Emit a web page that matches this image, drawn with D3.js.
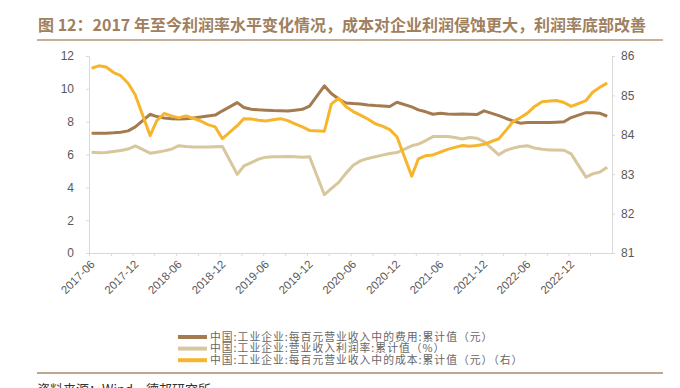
<!DOCTYPE html>
<html>
<head>
<meta charset="utf-8">
<script src="https://cdn.jsdelivr.net/npm/d3@7"></script>
<style>
  body { margin: 0; background: #fff; }
  svg { display: block; }
</style>
</head>
<body>
<svg id="chart" width="680" height="388"></svg>
<script>
// monthly cumulative data, January not published
const months = [
  "2017-06","2017-07","2017-08","2017-09","2017-10","2017-11","2017-12",
  "2018-02","2018-03","2018-04","2018-05","2018-06","2018-07","2018-08","2018-09","2018-10","2018-11","2018-12",
  "2019-02","2019-03","2019-04","2019-05","2019-06","2019-07","2019-08","2019-09","2019-10","2019-11","2019-12",
  "2020-02","2020-03","2020-04","2020-05","2020-06","2020-07","2020-08","2020-09","2020-10","2020-11","2020-12",
  "2021-02","2021-03","2021-04","2021-05","2021-06","2021-07","2021-08","2021-09","2021-10","2021-11","2021-12",
  "2022-02","2022-03","2022-04","2022-05","2022-06","2022-07","2022-08","2022-09","2022-10","2022-11","2022-12",
  "2023-02","2023-03","2023-04","2023-05"
];

// 每百元营业收入中的费用 (元), left axis
const fees = [
  7.30, 7.30, 7.30, 7.32, 7.36, 7.44, 7.68,
  8.45, 8.31, 8.22, 8.18, 8.17, 8.18, 8.22, 8.28, 8.34, 8.40, 8.66,
  9.16, 8.86, 8.76, 8.72, 8.70, 8.68, 8.67, 8.65, 8.70, 8.75, 8.95,
  10.18, 9.72, 9.38, 9.14, 9.10, 9.08, 9.02, 8.98, 8.96, 8.92, 9.18,
  8.90, 8.72, 8.60, 8.45, 8.51, 8.47, 8.45, 8.47, 8.45, 8.43, 8.66,
  8.37, 8.21, 8.05, 7.91, 7.95, 7.95, 7.95, 7.95, 7.97, 7.99, 8.25,
  8.55, 8.55, 8.51, 8.33
];

// 营业收入利润率 (%), left axis
const profitMargin = [
  6.14, 6.10, 6.12, 6.18, 6.24, 6.33, 6.52,
  6.08, 6.14, 6.22, 6.32, 6.54, 6.49, 6.46, 6.45, 6.45, 6.47, 6.49,
  4.79, 5.30, 5.50, 5.72, 5.84, 5.86, 5.86, 5.88, 5.86, 5.84, 5.86,
  3.55, 3.92, 4.30, 4.85, 5.35, 5.61, 5.76, 5.86, 5.96, 6.06, 6.12,
  6.53, 6.63, 6.85, 7.09, 7.09, 7.09, 7.03, 6.95, 7.03, 6.99, 6.79,
  5.98, 6.24, 6.39, 6.49, 6.53, 6.39, 6.32, 6.28, 6.28, 6.26, 6.04,
  4.62, 4.82, 4.93, 5.23
];

// 每百元营业收入中的成本 (元), right axis
const cost = [
  85.69, 85.75, 85.72, 85.58, 85.50, 85.31, 85.01,
  83.98, 84.36, 84.54, 84.48, 84.43, 84.48, 84.42, 84.35, 84.26, 84.20, 83.90,
  84.23, 84.41, 84.40, 84.37, 84.35, 84.38, 84.41, 84.36, 84.28, 84.20, 84.11,
  84.09, 84.78, 84.93, 84.72, 84.59, 84.50, 84.40, 84.28, 84.22, 84.13, 83.95,
  82.95, 83.39, 83.47, 83.49, 83.56, 83.63, 83.68, 83.73, 83.71, 83.73, 83.76,
  83.90, 84.10, 84.33, 84.43, 84.55, 84.72, 84.84, 84.86, 84.87, 84.82, 84.72,
  84.87, 85.08, 85.21, 85.31
];

const leftTicks = [0, 2, 4, 6, 8, 10, 12];
const rightTicks = [81, 82, 83, 84, 85, 86];
const xStart = "2017-06";
const xEnd = "2023-06";
const xLabelEnd = "2022-12";

const seriesNames = [
  "中国:工业企业:每百元营业收入中的费用:累计值（元）",
  "中国:工业企业:营业收入利润率:累计值（%）",
  "中国:工业企业:每百元营业收入中的成本:累计值（元）（右）"
];
const titleText = "图 12：2017 年至今利润率水平变化情况，成本对企业利润侵蚀更大，利润率底部改善";
const sourceText = "资料来源：Wind，德邦研究所";

const colors = ["#a47b50", "#d8c69c", "#f6b52c"];
const cjk = "'Noto Sans CJK SC', sans-serif";
const latin = "'Liberation Sans', Arial, sans-serif";

const svg = d3.select("#chart");
const margin = { top: 56, right: 68, bottom: 135, left: 89 };
const width = 680, height = 388;

const parseMonth = d3.timeParse("%Y-%m");
const fmtMonth = d3.timeFormat("%Y-%m");
const x = d3.scaleTime()
  .domain([parseMonth(xStart), parseMonth(xEnd)])
  .range([margin.left, width - margin.right]);
// points sit a little into their month
const xPoint = m => x(d3.timeDay.offset(parseMonth(m), 11));

const yLeft = d3.scaleLinear().domain([0, 12]).range([height - margin.bottom, margin.top]);
const yRight = d3.scaleLinear().domain([81, 86]).range([height - margin.bottom, margin.top]);

// title
svg.append("text")
  .attr("x", 38)
  .attr("y", 31)
  .attr("font-family", cjk)
  .attr("font-weight", "bold")
  .attr("font-size", 16)
  .attr("fill", "#a0805e")
  .text(titleText);

svg.append("line")
  .attr("x1", 37).attr("x2", 663)
  .attr("y1", 40).attr("y2", 40)
  .attr("stroke", "#b09474")
  .attr("stroke-width", 1.5);

// axes
const axisColor = "#d9d9d9";
const labelColor = "#595959";

const quarterTicks = d3.timeMonth.range(parseMonth(xStart), parseMonth(xEnd), 3);
const labelled = new Set(d3.timeMonth.range(parseMonth(xStart), d3.timeMonth.offset(parseMonth(xLabelEnd), 1), 6).map(fmtMonth));

const xAxis = svg.append("g")
  .attr("transform", `translate(0,${height - margin.bottom})`)
  .call(d3.axisBottom(x)
    .tickValues(quarterTicks)
    .tickSize(3)
    .tickSizeOuter(0)
    .tickFormat(d => labelled.has(fmtMonth(d)) ? fmtMonth(d) : ""));
xAxis.select(".domain").attr("stroke", axisColor);
xAxis.selectAll(".tick line").attr("stroke", axisColor);
xAxis.selectAll("text")
  .attr("y", 0)
  .attr("dy", null)
  .attr("text-anchor", "end")
  .attr("transform", "translate(6,12) rotate(-45)")
  .attr("font-family", latin)
  .attr("font-size", 11.5)
  .attr("fill", labelColor);

const leftAxis = svg.append("g")
  .attr("transform", `translate(${margin.left},0)`)
  .call(d3.axisLeft(yLeft).tickValues(leftTicks).tickSize(3).tickSizeOuter(0).tickPadding(12));
const rightAxis = svg.append("g")
  .attr("transform", `translate(${width - margin.right},0)`)
  .call(d3.axisRight(yRight).tickValues(rightTicks).tickFormat(d3.format("d"))
    .tickSize(3).tickSizeOuter(0).tickPadding(6));

[leftAxis, rightAxis].forEach(g => {
  g.select(".domain").attr("stroke", axisColor);
  g.selectAll(".tick line").attr("stroke", axisColor);
  g.selectAll("text")
    .attr("font-family", latin)
    .attr("font-size", 12)
    .attr("fill", labelColor);
});

// lines
const rows = months.map((m, i) => ({ m, fees: fees[i], profitMargin: profitMargin[i], cost: cost[i] }));
const series = [
  { key: "fees", y: yLeft },
  { key: "profitMargin", y: yLeft },
  { key: "cost", y: yRight }
];

svg.append("g")
  .selectAll("path")
  .data(series)
  .join("path")
  .attr("fill", "none")
  .attr("stroke", (d, i) => colors[i])
  .attr("stroke-width", 3)
  .attr("stroke-linejoin", "round")
  .attr("d", s => d3.line()
    .x(d => xPoint(d.m))
    .y(d => s.y(d[s.key]))(rows));

// legend
const legend = svg.append("g")
  .selectAll("g")
  .data(seriesNames)
  .join("g")
  .attr("transform", (d, i) => `translate(178,${337 + i * 11.6})`);

legend.append("line")
  .attr("x1", 0).attr("x2", 29)
  .attr("stroke", (d, i) => colors[i])
  .attr("stroke-width", 4);

legend.append("text")
  .attr("x", 32)
  .attr("y", 3.8)
  .attr("font-family", cjk)
  .attr("font-size", 10.8)
  .attr("letter-spacing", 1)
  .attr("fill", "#666")
  .text(d => d);

svg.append("line")
  .attr("x1", 37).attr("x2", 663)
  .attr("y1", 373).attr("y2", 373)
  .attr("stroke", "#a88a6a")
  .attr("stroke-width", 1.5);

svg.append("text")
  .attr("x", 37)
  .attr("y", 394)
  .attr("font-family", cjk)
  .attr("font-size", 13)
  .attr("fill", "#333")
  .text(sourceText);
</script>
</body>
</html>
